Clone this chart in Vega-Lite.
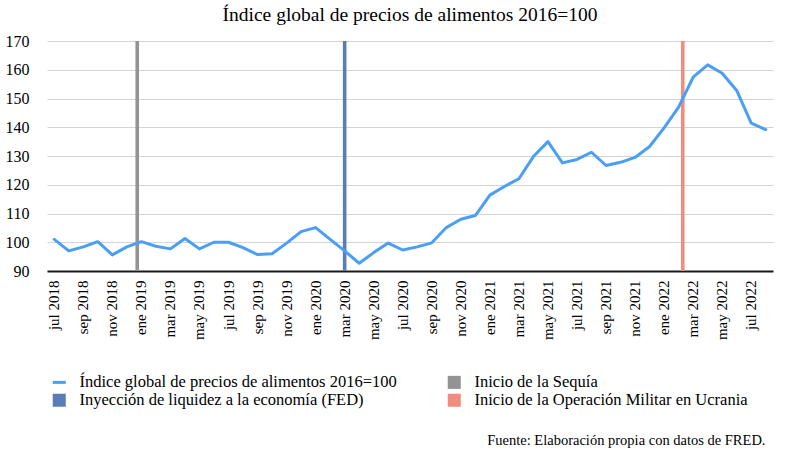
{
  "$schema": "https://vega.github.io/schema/vega-lite/v6.json",
  "width": 726,
  "height": 230,
  "autosize": {"type": "none"},
  "padding": {"left": 47, "top": 41, "right": 27, "bottom": 179},
  "background": "white",
  "config": {
    "font": "Liberation Serif",
    "view": {"stroke": null},
    "title": {"font": "Liberation Serif", "fontSize": 19.5, "fontWeight": "normal", "color": "black"},
    "axis": {"labelFont": "Liberation Serif", "titleFont": "Liberation Serif", "labelColor": "black"},
    "legend": {"labelFont": "Liberation Serif"}
  },
  "title": {"text": "Índice global de precios de alimentos 2016=100", "anchor": "middle", "frame": "group", "offset": 8, "font": "Liberation Serif", "fontSize": 19.5},
  "datasets": {
    "indice": [
      {"mes": "jul 2018", "valor": 101.0},
      {"mes": "ago 2018", "valor": 97.0},
      {"mes": "sep 2018", "valor": 98.4},
      {"mes": "oct 2018", "valor": 100.2},
      {"mes": "nov 2018", "valor": 95.6},
      {"mes": "dic 2018", "valor": 98.4},
      {"mes": "ene 2019", "valor": 100.2},
      {"mes": "feb 2019", "valor": 98.6},
      {"mes": "mar 2019", "valor": 97.7},
      {"mes": "abr 2019", "valor": 101.3},
      {"mes": "may 2019", "valor": 97.7},
      {"mes": "jun 2019", "valor": 100.0},
      {"mes": "jul 2019", "valor": 100.0},
      {"mes": "ago 2019", "valor": 98.1},
      {"mes": "sep 2019", "valor": 95.7},
      {"mes": "oct 2019", "valor": 96.0},
      {"mes": "nov 2019", "valor": 99.7},
      {"mes": "dic 2019", "valor": 103.7},
      {"mes": "ene 2020", "valor": 105.1},
      {"mes": "feb 2020", "valor": 101.0},
      {"mes": "mar 2020", "valor": 97.0},
      {"mes": "abr 2020", "valor": 92.7},
      {"mes": "may 2020", "valor": 96.4},
      {"mes": "jun 2020", "valor": 99.7},
      {"mes": "jul 2020", "valor": 97.3},
      {"mes": "ago 2020", "valor": 98.4},
      {"mes": "sep 2020", "valor": 99.8},
      {"mes": "oct 2020", "valor": 105.1},
      {"mes": "nov 2020", "valor": 108.0},
      {"mes": "dic 2020", "valor": 109.3},
      {"mes": "ene 2021", "valor": 116.4},
      {"mes": "feb 2021", "valor": 119.4},
      {"mes": "mar 2021", "valor": 122.1},
      {"mes": "abr 2021", "valor": 129.8},
      {"mes": "may 2021", "valor": 135.0},
      {"mes": "jun 2021", "valor": 127.6},
      {"mes": "jul 2021", "valor": 128.8},
      {"mes": "ago 2021", "valor": 131.3},
      {"mes": "sep 2021", "valor": 126.7},
      {"mes": "oct 2021", "valor": 127.8},
      {"mes": "nov 2021", "valor": 129.5},
      {"mes": "dic 2021", "valor": 133.3},
      {"mes": "ene 2022", "valor": 139.8},
      {"mes": "feb 2022", "valor": 147.0},
      {"mes": "mar 2022", "valor": 157.4},
      {"mes": "abr 2022", "valor": 161.7},
      {"mes": "may 2022", "valor": 158.8},
      {"mes": "jun 2022", "valor": 152.8},
      {"mes": "jul 2022", "valor": 141.4},
      {"mes": "ago 2022", "valor": 139.2}
    ],
    "eventos": [
      {"mes": "ene 2019", "evento": "Inicio de la Sequía", "valor": 170},
      {"mes": "mar 2020", "evento": "Inyección de liquidez a la economía (FED)", "valor": 170},
      {"mes": "feb 2022", "evento": "Inicio de la Operación Militar en Ucrania", "valor": 170}
    ]
  },
  "layer": [
    {
      "data": {"name": "eventos"},
      "mark": {"type": "bar", "width": 3.6},
      "encoding": {
        "x": {"field": "mes", "type": "ordinal"},
        "xOffset": {"field": "evento", "type": "nominal",
          "scale": {"domain": ["Inicio de la Sequía", "Inyección de liquidez a la economía (FED)", "Inicio de la Operación Militar en Ucrania"], "paddingInner": 0, "paddingOuter": 0.25}},
        "y": {"field": "valor", "type": "quantitative"},
        "y2": {"datum": 90},
        "color": {"field": "evento", "type": "nominal"}
      }
    },
    {
      "data": {"name": "indice"},
      "transform": [{"calculate": "'Índice global de precios de alimentos 2016=100'", "as": "serie"}],
      "mark": {"type": "line", "strokeWidth": 3, "strokeJoin": "round", "strokeCap": "round"},
      "encoding": {
        "x": {"field": "mes", "type": "ordinal", "bandPosition": 0.5},
        "y": {"field": "valor", "type": "quantitative"},
        "color": {"field": "serie", "type": "nominal"}
      }
    }
  ],
  "resolve": {"scale": {"x": "shared", "y": "shared", "color": "shared"}},
  "encoding": {
    "x": {
      "field": "mes", "type": "ordinal", "sort": null,
      "scale": {"type": "band", "paddingInner": 0, "paddingOuter": 0,
        "domain": ["jul 2018","ago 2018","sep 2018","oct 2018","nov 2018","dic 2018","ene 2019","feb 2019","mar 2019","abr 2019","may 2019","jun 2019","jul 2019","ago 2019","sep 2019","oct 2019","nov 2019","dic 2019","ene 2020","feb 2020","mar 2020","abr 2020","may 2020","jun 2020","jul 2020","ago 2020","sep 2020","oct 2020","nov 2020","dic 2020","ene 2021","feb 2021","mar 2021","abr 2021","may 2021","jun 2021","jul 2021","ago 2021","sep 2021","oct 2021","nov 2021","dic 2021","ene 2022","feb 2022","mar 2022","abr 2022","may 2022","jun 2022","jul 2022","ago 2022"]},
      "axis": {
        "values": ["jul 2018","sep 2018","nov 2018","ene 2019","mar 2019","may 2019","jul 2019","sep 2019","nov 2019","ene 2020","mar 2020","may 2020","jul 2020","sep 2020","nov 2020","ene 2021","mar 2021","may 2021","jul 2021","sep 2021","nov 2021","ene 2022","mar 2022","may 2022","jul 2022"],
        "labelAngle": -90, "labelFontSize": 15, "labelPadding": 9, "ticks": false,
        "labelFont": "Liberation Serif", "titleFont": "Liberation Serif",
        "domainColor": "#1a1a1a", "domainWidth": 2, "grid": false,
        "title": "Fuente: Elaboración propia con datos de FRED.",
        "titleFontSize": 14.5, "titleFontWeight": "normal", "titleColor": "black",
        "titleAnchor": "end", "titleAlign": "right", "titleBaseline": "middle",
        "titleX": 718, "titleY": 169
      }
    },
    "y": {
      "type": "quantitative",
      "scale": {"domain": [90, 170], "nice": false, "zero": false},
      "axis": {"values": [90,100,110,120,130,140,150,160,170], "title": null, "domain": false, "ticks": false,
        "labelFont": "Liberation Serif",
        "labelFontSize": 16, "labelPadding": 18, "gridColor": "#d4d4d4", "gridWidth": 1}
    },
    "color": {
      "type": "nominal",
      "scale": {
        "domain": ["Índice global de precios de alimentos 2016=100", "Inicio de la Sequía", "Inyección de liquidez a la economía (FED)", "Inicio de la Operación Militar en Ucrania"],
        "range": ["#4A9FF5", "#939393", "#5A7DB5", "#F28C7E"]
      },
      "legend": {
        "title": null, "orient": "none", "legendX": 4, "legendY": 333, "direction": "horizontal", "columns": 2,
        "columnPadding": 49, "rowPadding": 1, "labelFontSize": 16.5, "labelColor": "black", "labelOffset": 12,
        "labelFont": "Liberation Serif",
        "symbolSize": 170, "padding": 0, "labelLimit": 420,
        "encode": {
          "symbols": {"update": {
            "shape": {"signal": "datum.label === 'Índice global de precios de alimentos 2016=100' ? 'stroke' : 'square'"},
            "strokeWidth": {"signal": "datum.label === 'Índice global de precios de alimentos 2016=100' ? 3 : 0"},
            "fill": {"scale": "color", "field": "value"},
            "stroke": {"scale": "color", "field": "value"},
            "opacity": {"value": 1}
          }}
        }
      }
    }
  }
}
